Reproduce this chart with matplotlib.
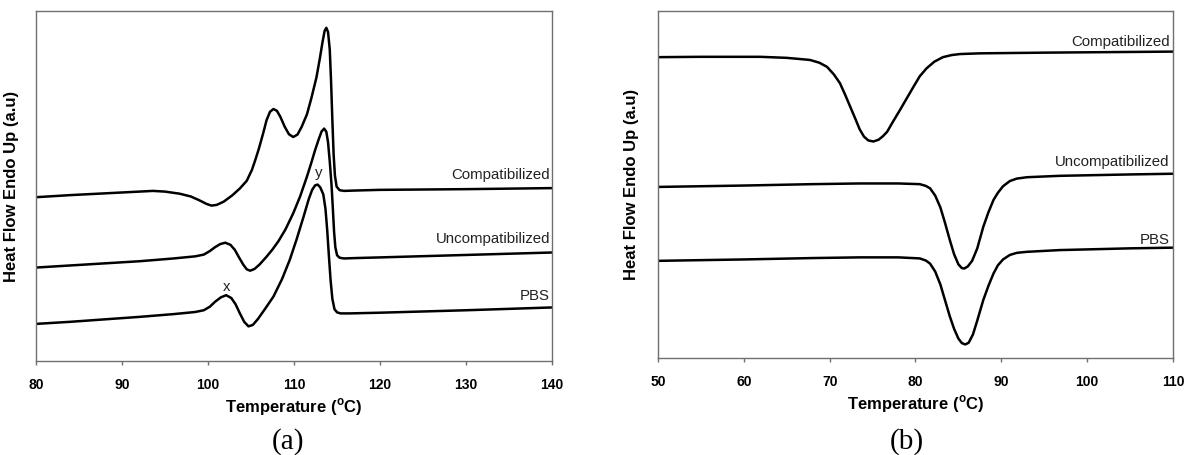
import matplotlib.pyplot as plt
import numpy as np

plt.rcParams['font.family'] = ['Liberation Sans', 'DejaVu Sans']

# (a) heating scans
temp_a_comp = [80, 84, 88, 92, 93.6, 95, 96.7, 98, 99, 99.8, 100.4, 101, 101.8, 102.8, 103.7, 104.5,
               105.1, 105.5, 105.9, 106.4, 106.8, 107.2, 107.6, 108.0, 108.4, 108.9, 109.4, 109.9,
               110.4, 110.9, 111.5, 112.0, 112.6, 113.0, 113.3, 113.55, 113.75, 113.95, 114.15, 114.3,
               114.45, 114.6, 114.75, 114.95, 115.3, 115.8, 117, 120, 130, 140]
hf_a_comp = [46.8, 47.4, 47.9, 48.4, 48.6, 48.4, 47.8, 47.0, 45.9, 44.9, 44.4, 44.6, 45.5, 47.3, 49.3, 51.5,
             54.6, 57.5, 60.6, 65, 68.8, 71.2, 72.0, 71.5, 69.8, 67, 64.8, 64.0,
             64.7, 67, 70.5, 75, 81, 86.5, 91, 94.3, 95.2, 94, 89, 80,
             69, 59, 53, 49.8, 48.8, 48.6, 48.7, 48.9, 49.1, 49.4]

temp_a_uncomp = [80, 84, 88, 92, 96, 98.5, 99.5, 100.2, 100.8, 101.4, 102.0, 102.6, 103.1, 103.6, 104.1,
                 104.5, 104.9, 105.4, 106.0, 106.8, 107.5, 108.2, 109, 109.9, 110.7, 111.5, 112.0,
                 112.45, 112.9, 113.2, 113.5, 113.75, 113.95, 114.15, 114.35, 114.5, 114.65, 114.8,
                 115.0, 115.3, 115.8, 117, 120, 130, 140]
hf_a_uncomp = [26.7, 27.3, 27.9, 28.5, 29.3, 29.9, 30.4, 31.4, 32.5, 33.4, 33.8, 33.2, 31.8, 29.6, 27.5,
               26.2, 25.8, 26.3, 27.6, 29.8, 31.9, 34.3, 37.6, 42.2, 47, 52.7, 56.6,
               60.3, 63.6, 65.6, 66.4, 65.5, 62.5, 57, 50.5, 44, 37, 32.5,
               30.2, 29.5, 29.3, 29.4, 29.6, 30.3, 31.0]

temp_a_pbs = [80, 84, 88, 92, 96, 98.5, 99.5, 100.2, 100.8, 101.5, 102.1, 102.7, 103.2, 103.7, 104.2,
              104.7, 105.2, 105.8, 106.6, 107.6, 108.6, 109.5, 110.3, 111.1, 111.7, 112.1, 112.45,
              112.75, 113.05, 113.4, 113.65, 113.85, 114.05, 114.25, 114.45, 114.7, 115.0, 115.4,
              116.5, 120, 130, 140]
hf_a_pbs = [10.6, 11.2, 11.9, 12.6, 13.4, 14.0, 14.5, 15.5, 16.9, 18.2, 18.8, 18.0, 16.2, 13.6, 11.2,
            9.9, 10.3, 12.0, 14.8, 18.4, 23.4, 28.9, 34.8, 41.2, 46.2, 48.9, 50.2,
            50.4, 49.6, 47.6, 43.5, 37.5, 30, 23, 17.8, 14.8, 13.9, 13.6,
            13.6, 13.8, 14.5, 15.3]

# (b) cooling scans
temp_b_comp = [50, 55, 61.9, 65, 67.7, 68.8, 69.7, 70.5, 71.2, 71.8, 72.4, 73.0, 73.5, 74.0, 74.5,
               75.1, 75.7, 76.2, 76.7, 77.4, 78.2, 79.0, 79.8, 80.5, 81.3, 82.2, 83.2, 84.2, 85.2,
               87.5, 95, 110]
hf_b_comp = [86.7, 86.8, 86.8, 86.5, 85.9, 85.1, 83.9, 81.7, 79.2, 75.9, 72.4, 68.9, 65.9, 63.8, 62.7,
             62.4, 62.9, 63.9, 65.2, 68.2, 71.5, 74.9, 78.3, 81.2, 83.5, 85.4, 86.7, 87.3, 87.6,
             87.8, 88.0, 88.3]

temp_b_uncomp = [50, 60, 68, 73.5, 78, 80.5, 81.2, 81.7, 82.3, 82.9, 83.4, 84.0, 84.5, 85.0, 85.4,
                 85.7, 86.1, 86.6, 87.2, 87.9, 88.5, 89.1, 89.6, 90.2, 91.0, 91.8, 93, 96.8, 105, 110]
hf_b_uncomp = [49.3, 49.7, 50.1, 50.3, 50.3, 50.1, 49.6, 48.9, 46.8, 43.4, 39.3, 34.0, 29.9, 27.0, 25.9,
               25.8, 26.4, 28.0, 31.6, 37.8, 42.0, 45.6, 47.6, 49.5, 51.0, 51.7, 52.1, 52.5, 52.9, 53.1]

temp_b_pbs = [50, 60, 68, 73.5, 78, 80.5, 81.2, 81.7, 82.3, 82.9, 83.4, 84.0, 84.5, 85.0, 85.4,
              85.8, 86.2, 86.7, 87.2, 87.9, 88.5, 89.1, 89.6, 90.2, 91.0, 91.8, 93, 96.8, 105, 110]
hf_b_pbs = [28.0, 28.4, 28.8, 29.0, 29.0, 28.7, 28.1, 27.2, 24.9, 21.2, 17.0, 12.0, 8.4, 5.6, 4.3,
            3.9, 4.4, 6.8, 10.8, 16.7, 20.8, 24.4, 26.7, 28.4, 29.7, 30.3, 30.6, 31.1, 31.6, 31.8]

labels = ['Compatibilized', 'Uncompatibilized', 'PBS']
label_y_a = [51.9, 33.6, 17.4]
label_y_b = [89.9, 55.2, 32.8]

xticks_a = [80, 90, 100, 110, 120, 130, 140]
xticks_b = [50, 60, 70, 80, 90, 100, 110]

fig = plt.figure(figsize=(11.86, 4.55), dpi=100)
ax1 = fig.add_axes([0.0304, 0.2066, 0.4351, 0.7692])
ax2 = fig.add_axes([0.5548, 0.2132, 0.4342, 0.7626])

frame = '#707070'


def style(ax, xticks):
    ax.set_xlim(xticks[0], xticks[-1])
    ax.set_ylim(0, 100)
    ax.set_xticks(xticks, labels=[str(v) for v in xticks], fontweight='bold', fontsize=10)
    ax.set_yticks([])
    for s in ax.spines.values():
        s.set_color(frame)
        s.set_linewidth(1.0)
    ax.tick_params(axis='x', direction='out', length=3, width=1, color=frame, pad=9)
    ax.set_xlabel('Temperature ($^{\\mathregular{o}}$C)', fontsize=12, fontweight='bold', labelpad=3)
    ax.set_ylabel('Heat Flow Endo Up (a.u)', fontsize=12, fontweight='bold')


curves_a = [(temp_a_comp, hf_a_comp), (temp_a_uncomp, hf_a_uncomp), (temp_a_pbs, hf_a_pbs)]
curves_b = [(temp_b_comp, hf_b_comp), (temp_b_uncomp, hf_b_uncomp), (temp_b_pbs, hf_b_pbs)]

for (t, h) in curves_a:
    ax1.plot(t, h, color='black', lw=1.8, solid_joinstyle='round', solid_capstyle='round')
for (t, h) in curves_b:
    ax2.plot(t, h, color='black', lw=1.8, solid_joinstyle='round', solid_capstyle='round')

for lab, yy in zip(labels, label_y_a):
    ax1.text(139.75, yy, lab, ha='right', va='baseline', fontsize=10.8, color='#222222')
for lab, yy in zip(labels, label_y_b):
    ax2.text(109.6, yy, lab, ha='right', va='baseline', fontsize=10.8, color='#222222')

ax1.text(102.17, 21.2, 'x', ha='center', va='center', fontsize=10.8, color='#222222')
ax1.text(112.83, 53.8, 'y', ha='center', va='center', fontsize=10.8, color='#222222')

style(ax1, xticks_a)
style(ax2, xticks_b)
ax1.yaxis.set_label_coords(-0.033, 0.5)
ax2.yaxis.set_label_coords(-0.037, 0.5)

fig.text(288 / 1186, 1 - 442 / 455, '(a)', ha='center', va='center', fontsize=21,
         family=['Liberation Serif', 'DejaVu Serif'])
fig.text(907 / 1186, 1 - 442 / 455, '(b)', ha='center', va='center', fontsize=21,
         family=['Liberation Serif', 'DejaVu Serif'])

fig.savefig('out.png', dpi=100)
